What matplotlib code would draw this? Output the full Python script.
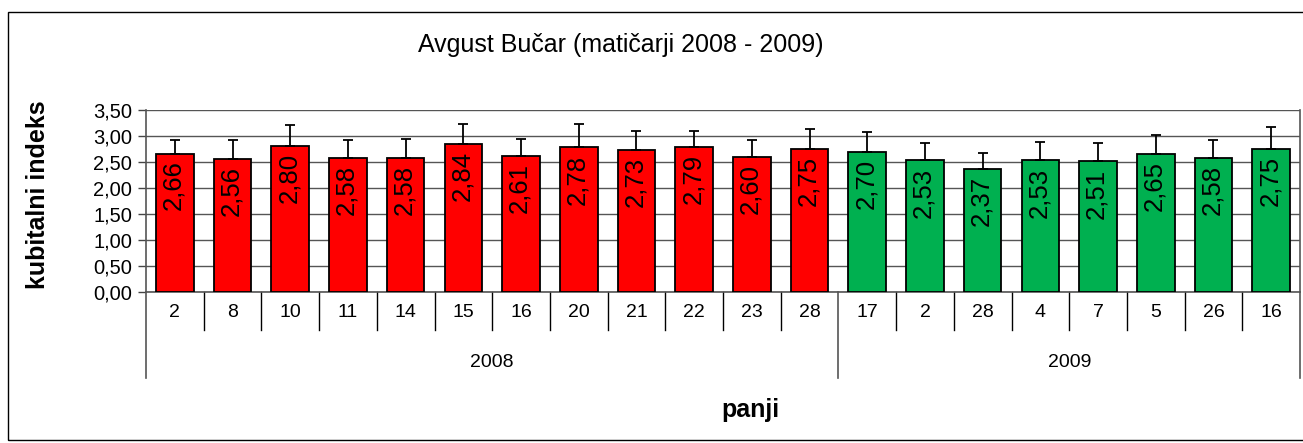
import matplotlib
matplotlib.use("Agg")
import matplotlib.pyplot as plt
from matplotlib.patches import Rectangle

plt.rcParams['font.family'] = ['Liberation Sans', 'DejaVu Sans']

title = "Avgust Bučar (matičarji 2008 - 2009)"
categories = ['2', '8', '10', '11', '14', '15', '16', '20', '21', '22', '23', '28',
              '17', '2', '28', '4', '7', '5', '26', '16']
years = ['2008'] * 12 + ['2009'] * 8
values = [2.66, 2.56, 2.80, 2.58, 2.58, 2.84, 2.61, 2.78, 2.73, 2.79, 2.60, 2.75,
          2.70, 2.53, 2.37, 2.53, 2.51, 2.65, 2.58, 2.75]
sd = [0.27, 0.36, 0.41, 0.34, 0.37, 0.40, 0.34, 0.46, 0.37, 0.31, 0.32, 0.38,
      0.38, 0.34, 0.31, 0.36, 0.36, 0.37, 0.34, 0.42]
year_colors = {'2008': '#FF0000', '2009': '#00B050'}
yticks = [0, 0.5, 1.0, 1.5, 2.0, 2.5, 3.0, 3.5]
ytick_labels = ['0,00', '0,50', '1,00', '1,50', '2,00', '2,50', '3,00', '3,50']
ylabel = 'kubitalni indeks'
xlabel = 'panji'

fig = plt.figure(figsize=(13.03, 4.43), dpi=100)
ax = fig.add_axes([146/1303, 1 - 292/443, (1300-146)/1303, 182/443])

x = list(range(len(values)))
colors = [year_colors[y] for y in years]
ax.bar(x, values, width=0.65, color=colors, edgecolor='black', linewidth=1.3, zorder=3)
ax.errorbar(x, values, yerr=[[0]*len(sd), sd], fmt='none', ecolor='black',
            elinewidth=1.3, capsize=3.5, capthick=1.3, zorder=4)

for xi, v in zip(x, values):
    ax.annotate(f"{v:.2f}".replace('.', ','), (xi, v), xytext=(-1, -5),
                textcoords='offset points', rotation=90, ha='center', va='top',
                fontsize=18.5, zorder=5)

ax.set_xlim(-0.5, len(values) - 0.5)
ax.set_ylim(0, 3.5)
ax.set_yticks(yticks)
ax.set_yticklabels(ytick_labels, fontsize=14.5)
ax.tick_params(axis='y', length=6, width=1, color='#444444', pad=4)
ax.set_xticks([])
ax.grid(axis='y', color='#555555', linewidth=1, zorder=0)
ax.spines['top'].set_visible(False)
for s in ['left', 'bottom', 'right']:
    ax.spines[s].set_color('#555555')
    ax.spines[s].set_linewidth(1.2)

trans = ax.get_xaxis_transform()
# category separators
for i in range(1, len(values)):
    if years[i] != years[i-1]:
        continue
    ax.plot([i - 0.5, i - 0.5], [0, -0.209], transform=trans, color='black',
            linewidth=1, clip_on=False)
# group separators
bounds = [-0.5] + [i - 0.5 for i in range(1, len(values)) if years[i] != years[i-1]] + [len(values) - 0.5]
for b in bounds:
    ax.plot([b, b], [0, -0.473], transform=trans, color='#555555',
            linewidth=1.2, clip_on=False)
for xi, c in zip(x, categories):
    ax.text(xi, -0.11, c, transform=trans, ha='center', va='center', fontsize=14)
for k in range(len(bounds) - 1):
    ax.text((bounds[k] + bounds[k+1]) / 2, -0.385, years[int(bounds[k] + 0.5)],
            transform=trans, ha='center', va='center', fontsize=14)

fig.text(750/1303, 1 - 410/443, xlabel, ha='center', va='center',
         fontsize=18, fontweight='bold')
fig.text(38/1303, 1 - 195/443, ylabel, rotation=90, ha='center', va='center',
         fontsize=18, fontweight='bold')
fig.text(621/1303, 1 - 45/443, title, ha='center', va='center', fontsize=18)

fig.patches.append(Rectangle((8/1303, 1 - 440/443), 1310/1303, 428/443,
                             transform=fig.transFigure, fill=False,
                             edgecolor='black', linewidth=1, clip_on=False))

fig.savefig('out.png', dpi=100)
